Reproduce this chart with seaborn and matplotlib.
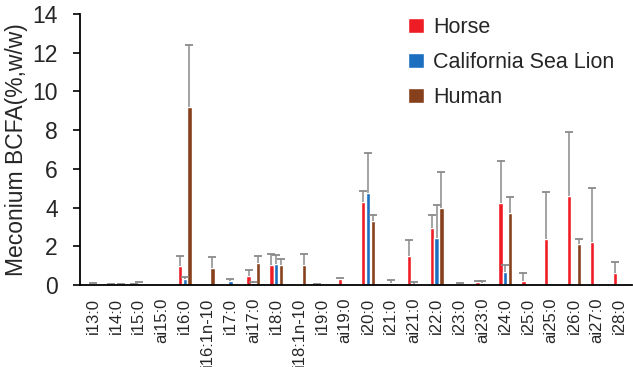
import numpy as np
import pandas as pd
import matplotlib
matplotlib.use("Agg")
import matplotlib.pyplot as plt
import seaborn as sns

categories = ["i13:0", "i14:0", "i15:0", "ai15:0", "i16:0", "i16:1n-10", "i17:0",
              "ai17:0", "i18:0", "i18:1n-10", "i19:0", "ai19:0", "i20:0", "i21:0",
              "ai21:0", "i22:0", "i23:0", "ai23:0", "i24:0", "i25:0", "ai25:0",
              "i26:0", "ai27:0", "i28:0"]
species = ["Horse", "California Sea Lion", "Human"]

horse = [0.0, 0.03, 0.04, 0.0, 0.97, 0.0, 0.0, 0.48, 1.02, 0.0, 0.02, 0.29,
         4.30, 0.0, 1.50, 2.95, 0.0, 0.14, 4.25, 0.22, 2.36, 4.62, 2.22, 0.64]
horse_err = [0.0, 0.04, 0.03, 0.0, 0.51, 0.0, 0.0, 0.30, 0.58, 0.0, 0.04, 0.06,
             0.57, 0.0, 0.83, 0.68, 0.0, 0.05, 2.17, 0.42, 2.46, 3.27, 2.78, 0.53]
sea_lion = [0.03, 0.0, 0.08, 0.0, 0.33, 0.0, 0.22, 0.10, 1.10, 0.0, 0.0, 0.0,
            4.74, 0.09, 0.05, 2.45, 0.05, 0.08, 0.67, 0.0, 0.0, 0.0, 0.0, 0.0]
sea_lion_err = [0.08, 0.0, 0.05, 0.0, 0.08, 0.0, 0.09, 0.05, 0.43, 0.0, 0.0, 0.0,
                2.10, 0.15, 0.12, 1.68, 0.07, 0.11, 0.38, 0.0, 0.0, 0.0, 0.0, 0.0]
human = [0.0, 0.03, 0.0, 0.0, 9.18, 0.90, 0.0, 1.14, 1.03, 1.05, 0.0, 0.0,
         3.32, 0.0, 0.0, 3.98, 0.0, 0.0, 3.70, 0.0, 0.0, 2.12, 0.0, 0.0]
human_err = [0.0, 0.03, 0.0, 0.0, 3.24, 0.55, 0.0, 0.36, 0.30, 0.55, 0.0, 0.0,
             0.28, 0.0, 0.0, 1.88, 0.0, 0.0, 0.83, 0.0, 0.0, 0.27, 0.0, 0.0]

colors = ["#ee1d25", "#1c6ec0", "#87401c"]

df = pd.DataFrame({
    "fa": categories * 3,
    "species": np.repeat(species, len(categories)),
    "value": horse + sea_lion + human,
})
errs = [horse_err, sea_lion_err, human_err]

sns.set_style("white")
plt.rcParams["font.family"] = ["Liberation Sans", "DejaVu Sans"]

fig = plt.figure(figsize=(6.33, 3.67), dpi=100)
ax = fig.add_axes([0.1264, 0.2234, 0.8716, 0.7386])

sns.barplot(data=df, x="fa", y="value", hue="species", hue_order=species,
            palette=colors, width=0.63, gap=0.12, errorbar=None,
            saturation=1, ax=ax)

# upper-only error bars on top of each bar (drop the lower cap)
for container, err in zip(ax.containers, errs):
    for bar, e in zip(container, err):
        if e <= 0:
            continue
        cx = bar.get_x() + bar.get_width() / 2
        _, caps, _ = ax.errorbar(cx, bar.get_height(), yerr=[[0], [e]], fmt="none",
                                 ecolor="#8a8a8a", elinewidth=1.1, capsize=3.2,
                                 capthick=1.3, zorder=1)
        caps[0].set_visible(False)

ax.set_ylim(0, 14)
ax.set_yticks(range(0, 15, 2))
ax.set_xlim(-0.57, 23.52)
ax.set_xlabel("")
ax.set_ylabel("Meconium BCFA(%,w/w)", fontsize=16.5, labelpad=3)
ax.tick_params(axis="y", direction="out", length=5, width=1.2, labelsize=16.5,
               pad=11, left=True, color="black")
ax.tick_params(axis="x", length=0, labelsize=12, pad=9, rotation=90)

sns.despine(ax=ax)
for side in ["left", "bottom"]:
    ax.spines[side].set_color("black")
    ax.spines[side].set_linewidth(1.3)

handles, labels = ax.get_legend_handles_labels()
ax.legend(handles, labels, loc="upper left", bbox_to_anchor=(0.56, 1.06),
          frameon=False, fontsize=15.5, handlelength=0.75, handleheight=0.7,
          handletextpad=0.4, labelspacing=0.66)

fig.savefig("out.png", dpi=100)
